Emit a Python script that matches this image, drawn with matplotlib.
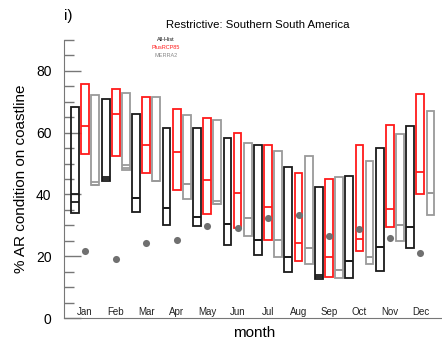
import numpy as np
from matplotlib import pyplot as plt

plt.rcParams['font.family'] = ['Liberation Sans', 'DejaVu Sans']

months = ['Jan', 'Feb', 'Mar', 'Apr', 'May', 'Jun', 'Jul', 'Aug', 'Sep', 'Oct', 'Nov', 'Dec']

# All-Hist (black)
hist_lo = [34.0, 44.4, 34.2, 30.0, 29.8, 23.7, 20.4, 15.0, 12.5, 12.9, 15.3, 22.6]
hist_hi = [68.3, 70.9, 66.2, 61.6, 61.6, 58.2, 55.9, 48.9, 42.4, 46.1, 54.9, 62.0]
hist_m1 = [40.1, 45.7, 38.9, 35.5, 32.6, 30.5, 25.1, 19.6, 13.9, 18.5, 22.9, 29.5]
hist_m2 = [37.4, 44.9, 38.9, 35.5, 32.6, 30.5, 25.1, 19.6, 13.3, 18.5, 22.9, 29.5]

# PlusRCP85 (red)
rcp_lo = [53.2, 52.3, 46.8, 41.3, 33.6, 29.1, 25.3, 18.5, 13.4, 21.7, 29.6, 40.0]
rcp_hi = [75.6, 74.2, 71.7, 67.8, 64.7, 59.9, 56.0, 47.1, 45.0, 56.1, 62.6, 72.5]
rcp_m1 = [62.3, 66.0, 56.0, 53.7, 44.7, 40.6, 35.9, 24.3, 19.6, 25.5, 35.4, 47.4]

# MERRA2 (gray)
mer_lo = [43.1, 47.9, 44.3, 38.4, 36.8, 26.4, 19.7, 17.5, 13.1, 17.4, 25.0, 33.4]
mer_hi = [72.1, 73.0, 71.6, 65.8, 64.2, 56.8, 54.1, 52.5, 45.7, 50.9, 59.5, 67.1]
mer_m1 = [43.9, 49.4, 44.3, 43.4, 37.8, 32.3, 25.3, 22.8, 15.7, 19.7, 30.1, 40.4]
mer_m2 = [43.1, 48.7, 44.3, 43.4, 36.9, 32.3, 25.3, 22.8, 15.7, 19.7, 30.1, 40.4]

# dots
obs = [21.7, 19.2, 24.4, 25.3, 29.8, 29.2, 32.5, 33.4, 26.6, 28.9, 26.0, 21.0]

fig = plt.figure(figsize=(4.42, 3.49), dpi=100)
ax = fig.add_axes([0.145, 0.0888, 0.86, 0.7966])

x = np.arange(1, 13)
w = 0.26
off = 0.33

series = [
    (x - off, hist_lo, hist_hi, [hist_m1, hist_m2], '#1a1a1a'),
    (x, rcp_lo, rcp_hi, [rcp_m1], '#ff1a1a'),
    (x + off, mer_lo, mer_hi, [mer_m1, mer_m2], '#9a9a9a'),
]
for pos, lo, hi, mids, col in series:
    lo = np.array(lo)
    hi = np.array(hi)
    ax.bar(pos, hi - lo, bottom=lo, width=w, fill=False, edgecolor=col, linewidth=1.3, zorder=3)
    for m in mids:
        ax.hlines(m, pos - w / 2, pos + w / 2, colors=col, linewidth=1.3, zorder=3)

ax.scatter(x, obs, s=26, color='#707070', zorder=4, linewidths=0)

for i, m in enumerate(months):
    ax.text(x[i], 1.9, m, ha='center', va='center', fontsize=7, color='#222222')

ax.set_xlim(0.31, 12.78)
ax.set_ylim(0, 90)
ax.set_xticks([])
ax.set_yticks([0, 20, 40, 60, 80])
ax.set_yticks(np.arange(0, 91, 5), minor=True)
ax.tick_params(axis='y', which='major', direction='in', length=12, width=1, color='#777777', labelsize=10, pad=9)
ax.tick_params(axis='y', which='minor', direction='in', length=7, width=1, color='#777777')
for s in ['top', 'right']:
    ax.spines[s].set_visible(False)
ax.spines['left'].set_color('#777777')
ax.spines['bottom'].set_color('#777777')

ax.set_ylabel('% AR condition on coastline', fontsize=11, labelpad=6)
ax.set_xlabel('month', fontsize=11, labelpad=6)

fig.text(0.583, 0.928, 'Restrictive: Southern South America', ha='center', va='center', fontsize=8.2)
fig.text(0.145, 0.955, 'i)', ha='left', va='center', fontsize=11)
fig.text(0.375, 0.888, 'All-Hist', ha='center', va='center', fontsize=4, color='#111111')
fig.text(0.375, 0.865, 'PlusRCP85', ha='center', va='center', fontsize=4, color='#ff1a1a')
fig.text(0.375, 0.841, 'MERRA2', ha='center', va='center', fontsize=4, color='#888888')

fig.savefig('out.png', dpi=100)
